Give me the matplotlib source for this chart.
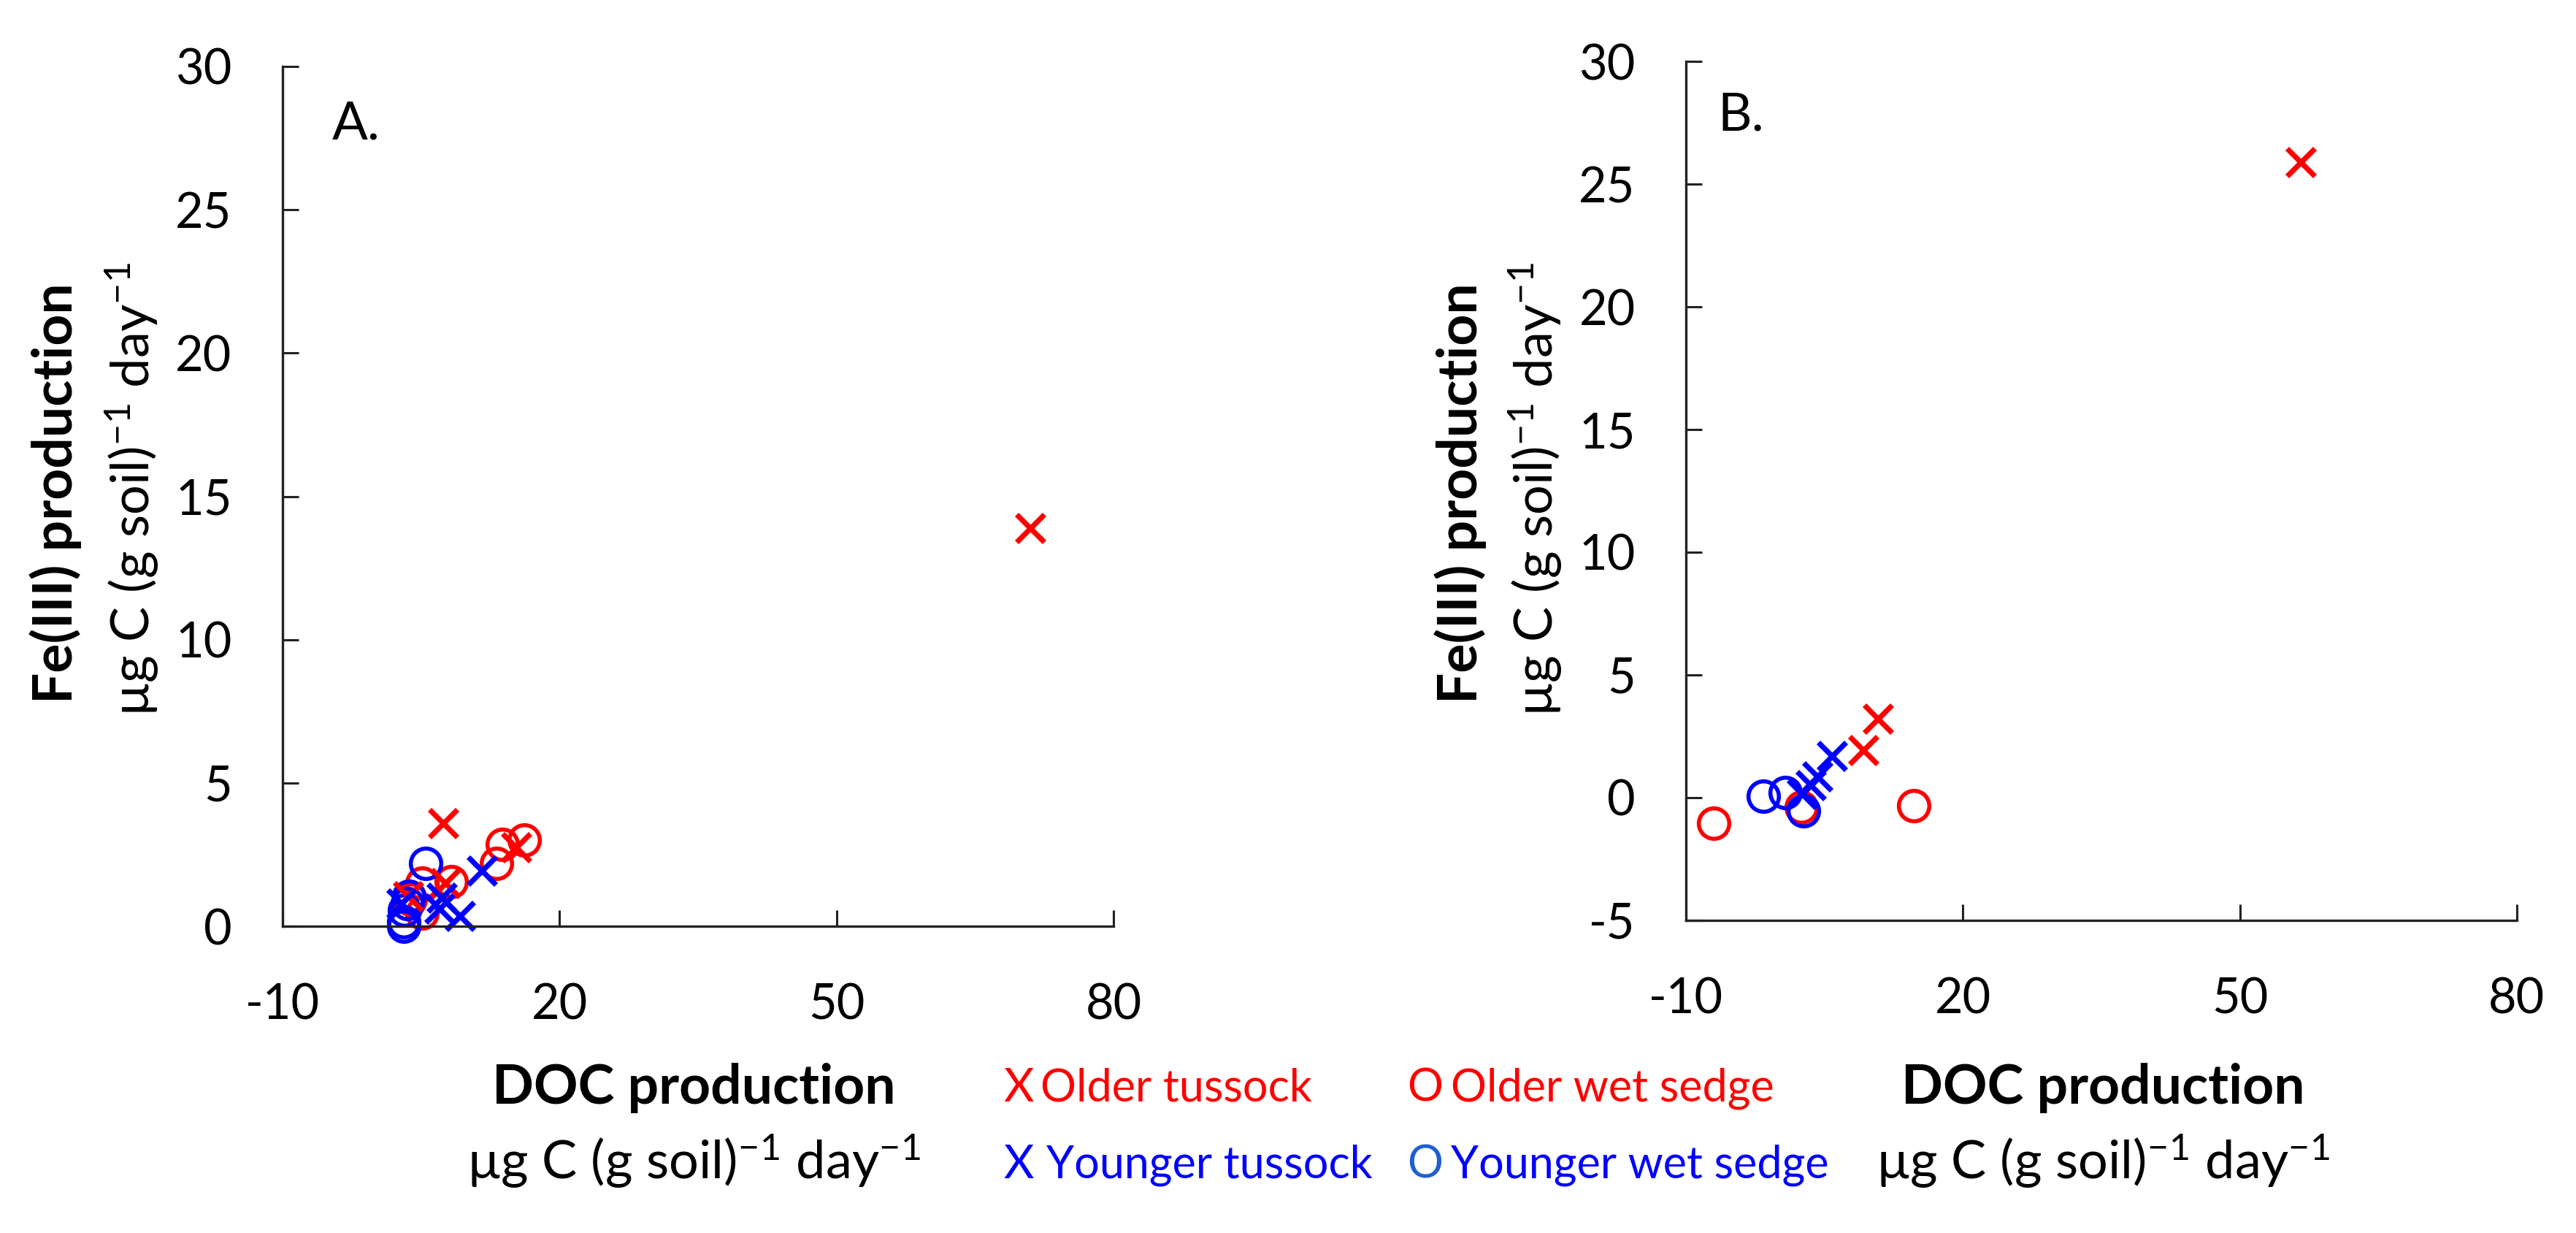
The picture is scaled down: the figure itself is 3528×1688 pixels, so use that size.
import matplotlib
matplotlib.use("Agg")
import matplotlib.pyplot as plt

plt.rcParams['font.family'] = ['Lato', 'DejaVu Sans']
plt.rcParams['mathtext.default'] = 'regular'
plt.rcParams['axes.unicode_minus'] = False

# panel A  (DOC production, Fe production)
a_old_tus_x = [71.0, 7.4, 15.3, 7.6, 3.6]
a_old_tus_y = [13.9, 3.6, 2.75, 1.5, 1.05]
a_old_wet_x = [16.2, 13.8, 13.2, 8.3, 5.1, 5.1, 3.8]
a_old_wet_y = [3.0, 2.85, 2.2, 1.55, 1.5, 0.45, 0.95]
a_yng_tus_x = [11.6, 7.2, 9.2, 2.9, 7.0]
a_yng_tus_y = [1.95, 1.0, 0.35, 0.8, 0.6]
a_yng_wet_x = [5.5, 3.7, 3.2, 3.1, 3.1, 3.5]
a_yng_wet_y = [2.2, 1.05, 0.55, 0.15, 0.0, 0.8]

# panel B
b_old_tus_x = [56.6, 10.8, 9.2]
b_old_tus_y = [25.9, 3.2, 1.93]
b_old_wet_x = [-7.0, 2.5, 14.7]
b_old_wet_y = [-1.05, -0.4, -0.33]
b_yng_tus_x = [2.6, 3.5, 4.2, 5.8]
b_yng_tus_y = [0.15, 0.5, 0.87, 1.7]
b_yng_wet_x = [-1.6, 0.75, 2.7]
b_yng_wet_y = [0.06, 0.2, -0.54]

x_ticks = [-10, 20, 50, 80]
a_y_ticks = [0, 5, 10, 15, 20, 25, 30]
b_y_ticks = [-5, 0, 5, 10, 15, 20, 25, 30]

fig = plt.figure(figsize=(17.64, 8.44), dpi=200)
axA = fig.add_axes([0.1097, 0.2488, 0.3226, 0.6973])
axB = fig.add_axes([0.6545, 0.2536, 0.3225, 0.6966])

def style(ax, yticks):
    for s in ['top', 'right']:
        ax.spines[s].set_visible(False)
    for s in ['left', 'bottom']:
        ax.spines[s].set_linewidth(1.2)
        ax.spines[s].set_color('#222222')
    ax.set_xlim(-10, 80)
    ax.set_ylim(yticks[0], yticks[-1])
    ax.set_xticks(x_ticks)
    ax.set_yticks(yticks)
    ax.tick_params(direction='in', length=8, width=1.1, color='#222222',
                   labelsize=24)
    ax.tick_params(axis='y', pad=25)
    ax.tick_params(axis='x', pad=28)

def draw(ax, otx, oty, owx, owy, ytx, yty, ywx, ywy):
    ax.plot(owx, owy, 'o', ms=15, mfc='none', mec='red', mew=2.0, ls='none',
            clip_on=False)
    ax.plot(ywx, ywy, 'o', ms=15, mfc='none', mec='blue', mew=2.0, ls='none',
            clip_on=False)
    ax.plot(otx, oty, 'x', ms=14, mec='red', mew=2.6, ls='none', clip_on=False)
    ax.plot(ytx, yty, 'x', ms=14, mec='blue', mew=2.6, ls='none', clip_on=False)

draw(axA, a_old_tus_x, a_old_tus_y, a_old_wet_x, a_old_wet_y,
     a_yng_tus_x, a_yng_tus_y, a_yng_wet_x, a_yng_wet_y)
draw(axB, b_old_tus_x, b_old_tus_y, b_old_wet_x, b_old_wet_y,
     b_yng_tus_x, b_yng_tus_y, b_yng_wet_x, b_yng_wet_y)
style(axA, a_y_ticks)
style(axB, b_y_ticks)

fig.text(455 / 3528, 1 - 170 / 1688, 'A.', fontsize=26, va='center')
fig.text(2352 / 3528, 1 - 158 / 1688, 'B.', fontsize=26, va='center')

unit = 'µg C (g soil)$^{-1}$ day$^{-1}$'

# y labels
for xb, xu in [(0.0215, 0.0513), (0.5669, 0.5961)]:
    fig.text(xb, 0.600, 'Fe(III) production', rotation=90, fontsize=27,
             fontweight='bold', ha='center', va='center')
    fig.text(xu, 0.603, unit, rotation=90, fontsize=26,
             ha='center', va='center')

# x labels
for xc in [0.2693, 0.8163]:
    fig.text(xc, 0.1173, 'DOC production', fontsize=27, fontweight='bold',
             ha='center', va='center')
    fig.text(xc, 0.058, unit, fontsize=26, ha='center', va='center')

# legend built from text
r1, r2 = 1 - 1490 / 1688, 1 - 1595 / 1688
fig.text(1374 / 3528, r1, 'X', color='red', fontsize=23, va='center')
fig.text(1425 / 3528, r1, 'Older tussock', color='red', fontsize=22, va='center')
fig.text(1374 / 3528, r2, 'X', color='blue', fontsize=23, va='center')
fig.text(1433 / 3528, r2, 'Younger tussock', color='blue', fontsize=22, va='center')
fig.text(1927 / 3528, r1, 'O', color='red', fontsize=22, va='center')
fig.text(1987 / 3528, r1, 'Older wet sedge', color='red', fontsize=22, va='center')
fig.text(1927 / 3528, r2, 'O', color='#1f5fd0', fontsize=22, va='center')
fig.text(1987 / 3528, r2, 'Younger wet sedge', color='blue', fontsize=22, va='center')

fig.savefig('out.png', dpi=200, facecolor='white')
